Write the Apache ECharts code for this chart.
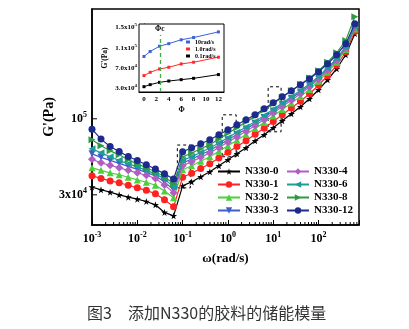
<!DOCTYPE html>
<html><head><meta charset="utf-8">
<script src="https://cdn.jsdelivr.net/npm/echarts@6/dist/echarts.min.js"></script>
<style>html,body{margin:0;padding:0;background:#fff}#c{width:409px;height:329px}</style>
</head><body><div id="c"></div>
<script>
// ---------- data ----------
const freqs = [0.001, 0.00158, 0.00251, 0.00398, 0.00631, 0.01, 0.0158, 0.0251, 0.0398, 0.0631,
  0.1, 0.158, 0.251, 0.398, 0.631, 1, 1.58, 2.51, 3.98, 6.31, 10, 15.8, 25.1, 39.8, 63.1, 100, 158, 251, 398, 631];
const seriesNames = ['N330-0', 'N330-1', 'N330-2', 'N330-3', 'N330-4', 'N330-6', 'N330-8', 'N330-12'];
const g_N330_0 = [33900, 32500, 31300, 30000, 28900, 28000, 27000, 25600, 22700, 21500,
  34600, 36800, 39900, 43200, 47500, 52200, 57400, 63200, 70600, 77600, 86700, 96900, 108200, 120900, 137300, 158300, 185500, 220900, 275700, 384600];
const g_N330_1 = [40500, 38900, 37400, 36300, 34900, 33500, 32200, 30500, 27700, 24800,
  39600, 42200, 45500, 49000, 53700, 58800, 64400, 70600, 78200, 86000, 95700, 106500, 118600, 132000, 148600, 170100, 197600, 233400, 288000, 400000];
const g_N330_2 = [46000, 44200, 42500, 41200, 39600, 38000, 36600, 34900, 31900, 28600,
  44600, 47500, 51000, 54800, 59800, 65300, 71200, 77900, 85600, 94200, 104500, 115900, 128400, 142400, 159300, 181200, 208900, 245200, 299500, 414300];
const g_N330_3 = [57400, 54300, 51800, 49400, 47100, 44900, 42800, 40500, 36800, 32500,
  49600, 52900, 56600, 60600, 66000, 71800, 78100, 85100, 93000, 102200, 113100, 125000, 138200, 152700, 169800, 191900, 219800, 256300, 310000, 427700];
const g_N330_4 = [52600, 49800, 47900, 46000, 44200, 42500, 40900, 38900, 35100, 31000,
  47600, 50700, 54300, 58200, 63500, 69100, 75300, 82000, 89900, 98900, 109500, 121300, 134300, 148600, 165500, 187300, 215400, 251900, 305700, 422300];
const g_N330_6 = [62200, 58300, 54800, 51800, 49000, 46700, 44200, 41800, 38600, 34000,
  51600, 54900, 58700, 62900, 68200, 74200, 80700, 87700, 95700, 105200, 116300, 128400, 141700, 156600, 173600, 195500, 223600, 260400, 313400, 432400];
const g_N330_8 = [71700, 65200, 60200, 56500, 52200, 49000, 46000, 43200, 39900, 35700,
  54700, 58200, 62200, 66400, 72600, 79400, 86900, 95100, 103900, 114800, 126800, 140600, 155800, 172800, 191000, 214000, 245200, 284600, 345900, 503500];
const g_N330_12 = [84900, 72500, 64500, 59600, 55000, 51600, 48300, 45100, 41800, 38500,
  59300, 63200, 67300, 71700, 77600, 84000, 90900, 98400, 106500, 117200, 128900, 141700, 155800, 171400, 188500, 210600, 239100, 275700, 328300, 450700];
const mainValues = [g_N330_0, g_N330_1, g_N330_2, g_N330_3, g_N330_4, g_N330_6, g_N330_8, g_N330_12];

const xTickValues = [0.001, 0.01, 0.1, 1, 10, 100];
const xTickLabels = ['10^-3', '10^-2', '10^-1', '10^0', '10^1', '10^2'];
const xMinorTicks = [0.002,0.003,0.004,0.005,0.006,0.007,0.008,0.009,0.02,0.03,0.04,0.05,0.06,0.07,0.08,0.09,
  0.2,0.3,0.4,0.5,0.6,0.7,0.8,0.9,2,3,4,5,6,7,8,9,20,30,40,50,60,70,80,90,200,300,400,500,600,700];
const yTickValues = [30000, 100000];
const yTickLabels = ['3x10^4', '10^5'];
const xRange = [0.001, 780];
const yRange = [18600, 569000];
// annotation boxes (data coords): [x0, x1, y0, y1]
const bracketBoxes = [[0.0764, 0.148, 33500, 66000], [0.748, 1.52, 54800, 106500], [7.72, 14.9, 81400, 166000]];

// inset
const phi = [0, 1, 2.5, 4, 6, 8, 12];
const insetNames = ['10rad/s', '1.0rad/s', '0.1rad/s'];
const g_10rad = [92900, 102700, 113000, 118000, 125600, 130000, 141000];
const g_1rad = [55400, 61900, 68400, 71800, 78300, 81600, 91500];
const g_01rad = [33700, 37700, 42200, 44800, 47500, 50100, 57400];
const insetValues = [g_10rad, g_1rad, g_01rad];
const insetXTicks = [0, 2, 4, 6, 8, 10, 12];
const insetYTicks = [30000, 70000, 110000, 150000];
const insetYLabels = ['3.0x10^4', '7.0x10^4', '1.1x10^5', '1.5x10^5'];
const insetXRange = [-0.8, 12.9];
const insetYRange = [23300, 156500];
const phiC = 2.55;
const phiCTop = 135000;

// ---------- styles ----------
const SERIF = "'Liberation Serif','Times New Roman',serif";
const starPath = 'path://M50,0 L61,35 L98,35 L68,57 L79,91 L50,70 L21,91 L32,57 L2,35 L39,35 Z';
const mainStyles = [
  {color: '#000000', symbol: starPath, rotate: 0, size: 7},
  {color: '#ff2222', symbol: 'circle', rotate: 0, size: 7},
  {color: '#4ccf3c', symbol: 'triangle', rotate: 0, size: 7},
  {color: '#3f5fc8', symbol: 'triangle', rotate: 180, size: 7},
  {color: '#b05ec4', symbol: 'diamond', rotate: 0, size: 8},
  {color: '#1e9c98', symbol: 'triangle', rotate: 90, size: 7},
  {color: '#2f9a42', symbol: 'triangle', rotate: -90, size: 7},
  {color: '#1d2a8e', symbol: 'circle', rotate: 0, size: 7}
];
const insetStyles = [{color: '#3c62d8'}, {color: '#ff2a2a'}, {color: '#000000'}];

function supText(s) {
  const p = s.split('^');
  return p.length > 1 ? '{n|' + p[0] + '}{s|' + p[1] + '}' : '{n|' + s + '}';
}
function richFor(nSize, sSize, lift) {
  return {
    n: {fontSize: nSize, fontWeight: 'bold', fontFamily: SERIF, color: '#000'},
    s: {fontSize: sSize, fontWeight: 'bold', fontFamily: SERIF, color: '#000', padding: [0, 0, lift, 0]}
  };
}

const series = [];
seriesNames.forEach((name, i) => {
  const st = mainStyles[i];
  const s = {
    name, type: 'line', xAxisIndex: 0, yAxisIndex: 0,
    data: freqs.map((f, k) => [f, mainValues[i][k]]),
    symbol: st.symbol, symbolSize: st.size, symbolRotate: st.rotate,
    lineStyle: {color: st.color, width: 1.2}, itemStyle: {color: st.color},
    z: 3 + i
  };
  if (i === 0) {
    s.markArea = {
      silent: true,
      itemStyle: {color: 'rgba(0,0,0,0)', borderColor: '#000', borderWidth: 1, borderType: [3, 3]},
      data: bracketBoxes.map(b => [{coord: [b[0], b[2]]}, {coord: [b[1], b[3]]}])
    };
  }
  series.push(s);
});
insetNames.forEach((name, i) => {
  const s = {
    name, type: 'line', xAxisIndex: 1, yAxisIndex: 1,
    data: phi.map((p, k) => [p, insetValues[i][k]]),
    symbol: 'rect', symbolSize: 3,
    lineStyle: {color: insetStyles[i].color, width: 1}, itemStyle: {color: insetStyles[i].color},
    z: 20
  };
  if (i === 0) {
    s.markLine = {
      silent: true, symbol: 'none', z: 30,
      lineStyle: {color: '#3cb043', type: [4, 3], width: 1.3},
      label: {show: true, position: 'end', formatter: 'Φc', fontSize: 7.5, fontWeight: 'bold', fontFamily: SERIF, color: '#000', distance: 2},
      data: [[{coord: [phiC, insetYRange[0]]}, {coord: [phiC, phiCTop]}]]
    };
  }
  series.push(s);
});

const legendText = {fontFamily: SERIF, fontWeight: 'bold', fontSize: 11, color: '#000', lineHeight: 11};
const option = {
  animation: false,
  backgroundColor: '#fff',
  grid: [
    {left: 92, right: 50, top: 9, bottom: 104, show: true, borderColor: '#000', borderWidth: 1.5, backgroundColor: 'transparent'},
    {left: 139, top: 24, width: 85, height: 68, show: true, borderColor: '#000', borderWidth: 1, backgroundColor: '#fff', z: 10}
  ],
  xAxis: [
    {type: 'log', gridIndex: 0, min: xRange[0], max: xRange[1], logBase: 10,
      name: 'ω(rad/s)', nameLocation: 'middle', nameGap: 27,
      nameTextStyle: {fontFamily: SERIF, fontWeight: 'bold', fontSize: 13, color: '#000'},
      axisLine: {show: true, lineStyle: {color: '#000', width: 1.5}},
      axisTick: {show: true, inside: true, length: 5, lineStyle: {color: '#000', width: 1}},
      splitLine: {show: false},
      axisLabel: {margin: 6, formatter: v => {
        const i = xTickValues.findIndex(t => Math.abs(Math.log10(v) - Math.log10(t)) < 0.01);
        return i < 0 ? '' : supText(xTickLabels[i]);
      }, rich: richFor(12, 8, 8)}},
    {type: 'value', gridIndex: 1, min: insetXRange[0], max: insetXRange[1],
      name: 'Φ', nameLocation: 'middle', nameGap: 14,
      nameTextStyle: {fontFamily: SERIF, fontWeight: 'bold', fontSize: 7.5, color: '#000'},
      axisLine: {show: true, lineStyle: {color: '#000', width: 1}},
      axisTick: {show: true, inside: true, length: 2, customValues: insetXTicks, lineStyle: {color: '#000'}},
      splitLine: {show: false},
      axisLabel: {margin: 4, customValues: insetXTicks, fontFamily: SERIF, fontWeight: 'bold', fontSize: 7, color: '#000'}}
  ],
  yAxis: [
    {type: 'log', gridIndex: 0, min: yRange[0], max: yRange[1], logBase: 10,
      name: "G'(Pa)", nameLocation: 'middle', nameGap: 36, nameRotate: 90,
      nameTextStyle: {fontFamily: SERIF, fontWeight: 'bold', fontSize: 14, color: '#000'},
      axisLine: {show: true, lineStyle: {color: '#000', width: 1.5}},
      axisTick: {show: false}, splitLine: {show: false}, axisLabel: {show: false}},
    {type: 'value', gridIndex: 1, min: insetYRange[0], max: insetYRange[1],
      name: "G'(Pa)", nameLocation: 'middle', nameGap: 30, nameRotate: 90,
      nameTextStyle: {fontFamily: SERIF, fontWeight: 'bold', fontSize: 7.5, color: '#000'},
      axisLine: {show: true, lineStyle: {color: '#000', width: 1}},
      axisTick: {show: true, inside: true, length: 2, customValues: insetYTicks, lineStyle: {color: '#000'}},
      splitLine: {show: false},
      axisLabel: {margin: 2, customValues: insetYTicks, formatter: v => {
        const i = insetYTicks.findIndex(t => Math.abs(t - v) < 1);
        return i < 0 ? '' : supText(insetYLabels[i]);
      }, rich: richFor(7, 5, 5)}}
  ],
  legend: [
    {data: seriesNames.slice(0, 4), orient: 'vertical', left: 217, top: 166, padding: 0, itemGap: 2,
      itemWidth: 22, itemHeight: 8, selectedMode: false, textStyle: legendText},
    {data: seriesNames.slice(4), orient: 'vertical', left: 286, top: 166, padding: 0, itemGap: 2,
      itemWidth: 22, itemHeight: 8, selectedMode: false, textStyle: legendText},
    {data: insetNames, orient: 'vertical', left: 186, top: 39, padding: 0, itemGap: 1,
      itemWidth: 4, itemHeight: 3, icon: 'rect', selectedMode: false, z: 30,
      textStyle: {fontFamily: SERIF, fontWeight: 'bold', fontSize: 6, color: '#000', lineHeight: 6}}
  ],
  series
};

const chart = echarts.init(document.getElementById('c'), null, {renderer: 'canvas'});
chart.setOption(option);

// axis extras placed through the library's own scales
const gfx = [];
const yBottom = chart.convertToPixel({yAxisIndex: 0}, yRange[0]);
const xLeft = chart.convertToPixel({xAxisIndex: 0}, xRange[0]);
xMinorTicks.forEach(v => {
  const x = chart.convertToPixel({xAxisIndex: 0}, v);
  gfx.push({type: 'line', shape: {x1: x, y1: yBottom, x2: x, y2: yBottom - 3}, style: {stroke: '#000', lineWidth: 1}, silent: true});
});
yTickValues.forEach((v, i) => {
  const y = chart.convertToPixel({yAxisIndex: 0}, v);
  gfx.push({type: 'line', shape: {x1: xLeft, y1: y, x2: xLeft + 5, y2: y}, style: {stroke: '#000', lineWidth: 1}, silent: true});
  gfx.push({type: 'text', x: xLeft - 5, y: y, silent: true,
    style: {text: supText(yTickLabels[i]), rich: richFor(12, 8, 8), align: 'right', verticalAlign: 'middle'}});
});
gfx.push({type: 'text', x: 87, y: 313, silent: true,
  style: {text: '图3', fontFamily: "'Noto Sans CJK SC',sans-serif", fontSize: 16, fill: '#333', verticalAlign: 'middle'}});
gfx.push({type: 'text', x: 128, y: 313, silent: true,
  style: {text: '添加N330的胶料的储能模量', fontFamily: "'Noto Sans CJK SC',sans-serif", fontSize: 16, fill: '#333', verticalAlign: 'middle'}});
chart.setOption({graphic: gfx});
</script>
</body></html>
